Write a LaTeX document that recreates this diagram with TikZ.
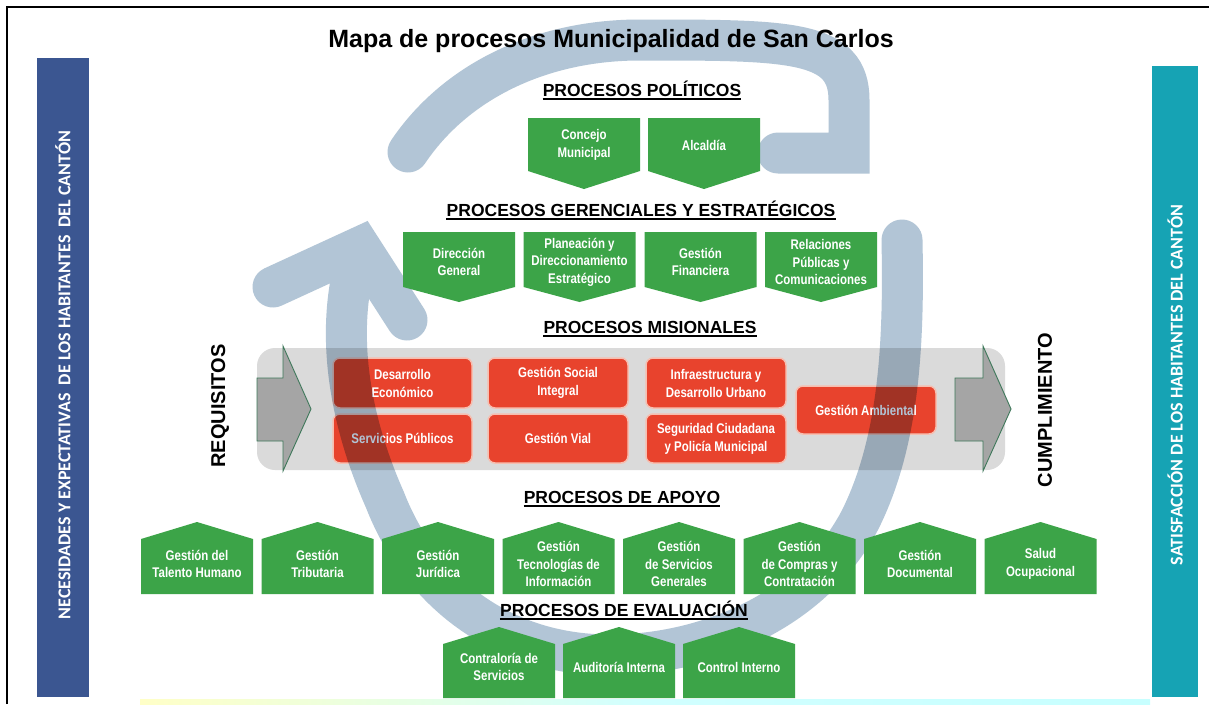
\documentclass[tikz,border=0pt]{standalone}
\usepackage{fontspec}
\setmainfont{Liberation Sans}
\newfontfamily\narrowfont[FakeStretch=0.82]{Liberation Sans}
\newfontfamily\sidefont{Carlito}
\definecolor{gbox}{RGB}{60,164,72}
\definecolor{rbox}{RGB}{232,67,45}
\definecolor{rline}{RGB}{246,190,176}
\definecolor{bandc}{RGB}{178,197,214}
\definecolor{leftbar}{RGB}{59,86,145}
\definecolor{rightbar}{RGB}{22,163,180}
\definecolor{greyrect}{RGB}{218,218,218}
\definecolor{arrowfill}{RGB}{165,165,165}
\definecolor{arrowline}{RGB}{62,120,90}
\tikzset{
  band/.style={draw=bandc, line width=41pt, line cap=round, line join=miter},
  btext/.style={text=white, align=center, inner sep=0pt,
    font=\narrowfont\bfseries\fontsize{14}{17.5}\selectfont},
  rtext/.style={text=white, align=center, inner sep=0pt,
    font=\narrowfont\bfseries\fontsize{14}{18}\selectfont},
  redbox/.style={fill=rbox, draw=rline, line width=1.5pt, rounded corners=7pt},
  head/.style={anchor=base, inner sep=0pt, font=\bfseries\fontsize{17.5}{21}\selectfont},
  uline/.style={line width=1.4pt},
  blockarrow/.style={fill=arrowfill, draw=arrowline, line width=0.9pt},
  sidetext/.style={rotate=90, text=white, inner sep=0pt,
    font=\sidefont\bfseries\fontsize{18}{21}\selectfont},
  bigword/.style={rotate=90, inner sep=0pt, font=\bfseries\fontsize{20}{24}\selectfont}
}
\newcommand\dnbox[7]{%
  \fill[gbox] (#2,#3) -- ({#2+112},#3) -- ({#2+112},#4) -- ({#2+56},#5) -- (#2,#4) -- cycle;
  \node[btext] (#1) at ({#2+56},#6) {#7};}
\newcommand\upbox[7]{%
  \fill[gbox] (#2,#5) -- (#2,#4) -- ({#2+56},#3) -- ({#2+112},#4) -- ({#2+112},#5) -- cycle;
  \node[btext] (#1) at ({#2+56},#6) {#7};}
\newcommand\redproc[6]{%
  \draw[redbox] (#2,#3) rectangle (#4,#5);
  \node[rtext] (#1) at ({(#2+#4)/2},{(#3+#5)/2}) {#6};}
\newcommand\heading[3]{%
  \node[head] (#1) at (#2) {#3};
  \draw[uline] ([yshift=-3pt]#1.base west) -- ([yshift=-3pt]#1.base east);}
\begin{document}
\begin{tikzpicture}[x=1pt,y=-1pt]
\useasboundingbox (0,0) rectangle (1209,704);
\fill[white] (0,0) rectangle (1209,704);
% frame lines
\draw[line width=1.3pt] (7,704) -- (7,7) -- (1209,7);
% faint bottom strip
\shade[left color=yellow!22, right color=cyan!22, middle color=cyan!18] (140,699) rectangle (1150,704);

% circular arrows (behind)
\draw[band] (408,152) .. controls (455,82) and (540,40) .. (640,40)
  .. controls (790,40) and (849,40) .. (849,100) -- (849,153) -- (778,153);
\draw[band] (902,240) .. controls (904,340) and (900,440) .. (860,520)
  .. controls (810,615) and (700,655) .. (610,655)
  .. controls (500,655) and (420,590) .. (385,500)
  .. controls (345,410) and (335,320) .. (360,247)
  (273,287) -- (360,247) -- (407,320);

% side bars
\fill[leftbar] (37,58) rectangle (89,697);
\node[sidetext] (needs) at (63,375) {NECESIDADES Y EXPECTATIVAS\ \ DE LOS HABITANTES\ \ DEL CANTÓN};
\fill[rightbar] (1152,66) rectangle (1198,697);
\node[sidetext] (satis) at (1175,385) {SATISFACCIÓN DE LOS HABITANTES DEL CANTÓN};

% misional band
\fill[greyrect, rounded corners=18pt] (257,348) rectangle (1005,470);
\draw[blockarrow] (257,378) -- (283,378) -- (283,346) -- (311,409) -- (283,471) -- (283,441) -- (257,441) -- cycle;
\draw[blockarrow] (955,378) -- (983,378) -- (983,346) -- (1011,409) -- (983,471) -- (983,441) -- (955,441) -- cycle;

\redproc{m1}{333}{358}{472}{408}{Desarrollo\\Económico}
\redproc{m2}{488}{358}{628}{408}{Gestión Social\\Integral}
\redproc{m3}{646}{358}{786}{408}{Infraestructura y\\Desarrollo Urbano}
\redproc{m4}{333}{414}{472}{463}{Servicios Públicos}
\redproc{m5}{488}{414}{628}{463}{Gestión Vial}
\redproc{m6}{646}{414}{786}{463}{Seguridad Ciudadana\\y Policía Municipal}
\redproc{m7}{796}{386}{936}{434}{Gestión Ambiental}

% band over the misional area (multiply)
\begin{scope}
  \clip[rounded corners=18pt] (257,348) rectangle (1005,470);
  \begin{scope}[blend mode=multiply]
  \draw[band] (902,240) .. controls (904,340) and (900,440) .. (860,520)
    .. controls (810,615) and (700,655) .. (610,655)
    .. controls (500,655) and (420,590) .. (385,500)
    .. controls (345,410) and (335,320) .. (360,247);
  \end{scope}
\end{scope}

% title and headings
\node[anchor=base, inner sep=0pt, font=\bfseries\fontsize{25}{30}\selectfont] (title) at (611,47) {Mapa de procesos Municipalidad de San Carlos};
\heading{hpol}{642,96}{PROCESOS POLÍTICOS}
\heading{hger}{641,216}{PROCESOS GERENCIALES Y ESTRATÉGICOS}
\heading{hmis}{650,333}{PROCESOS MISIONALES}
\heading{hapo}{622,503}{PROCESOS DE APOYO}
\heading{heva}{624,616}{PROCESOS DE EVALUACIÓN}

\node[bigword] (req) at (220,406) {REQUISITOS};
\node[bigword] (cum) at (1045,410) {CUMPLIMIENTO};

% political
\dnbox{p1}{528}{118}{171}{189}{145}{Concejo\\Municipal}
\dnbox{p2}{648}{118}{171}{189}{145}{Alcaldía}
% gerenciales
\dnbox{g1}{403}{232}{287}{302}{262}{Dirección\\General}
\dnbox{g2}{523.5}{232}{287}{302}{262}{Planeación y\\Direccionamiento\\Estratégico}
\dnbox{g3}{644.5}{232}{287}{302}{262}{Gestión\\Financiera}
\dnbox{g4}{765}{232}{287}{302}{262}{Relaciones\\Públicas y\\Comunicaciones}
% apoyo
\upbox{a1}{141}{522}{539}{594}{564}{Gestión del\\Talento Humano}
\upbox{a2}{261.5}{522}{539}{594}{564}{Gestión\\Tributaria}
\upbox{a3}{382}{522}{539}{594}{564}{Gestión\\Jurídica}
\upbox{a4}{502.5}{522}{539}{594}{564}{Gestión\\Tecnologías de\\Información}
\upbox{a5}{623}{522}{539}{594}{564}{Gestión\\de Servicios\\Generales}
\upbox{a6}{743.5}{522}{539}{594}{564}{Gestión\\de Compras y\\Contratación}
\upbox{a7}{864}{522}{539}{594}{564}{Gestión\\Documental}
\upbox{a8}{984.5}{522}{539}{594}{564}{Salud\\Ocupacional}
% evaluacion
\upbox{e1}{443}{627}{644}{698}{667}{Contraloría de\\Servicios}
\upbox{e2}{563}{627}{644}{698}{667}{Auditoría Interna}
\upbox{e3}{683}{627}{644}{698}{667}{Control Interno}
\end{tikzpicture}
\end{document}
